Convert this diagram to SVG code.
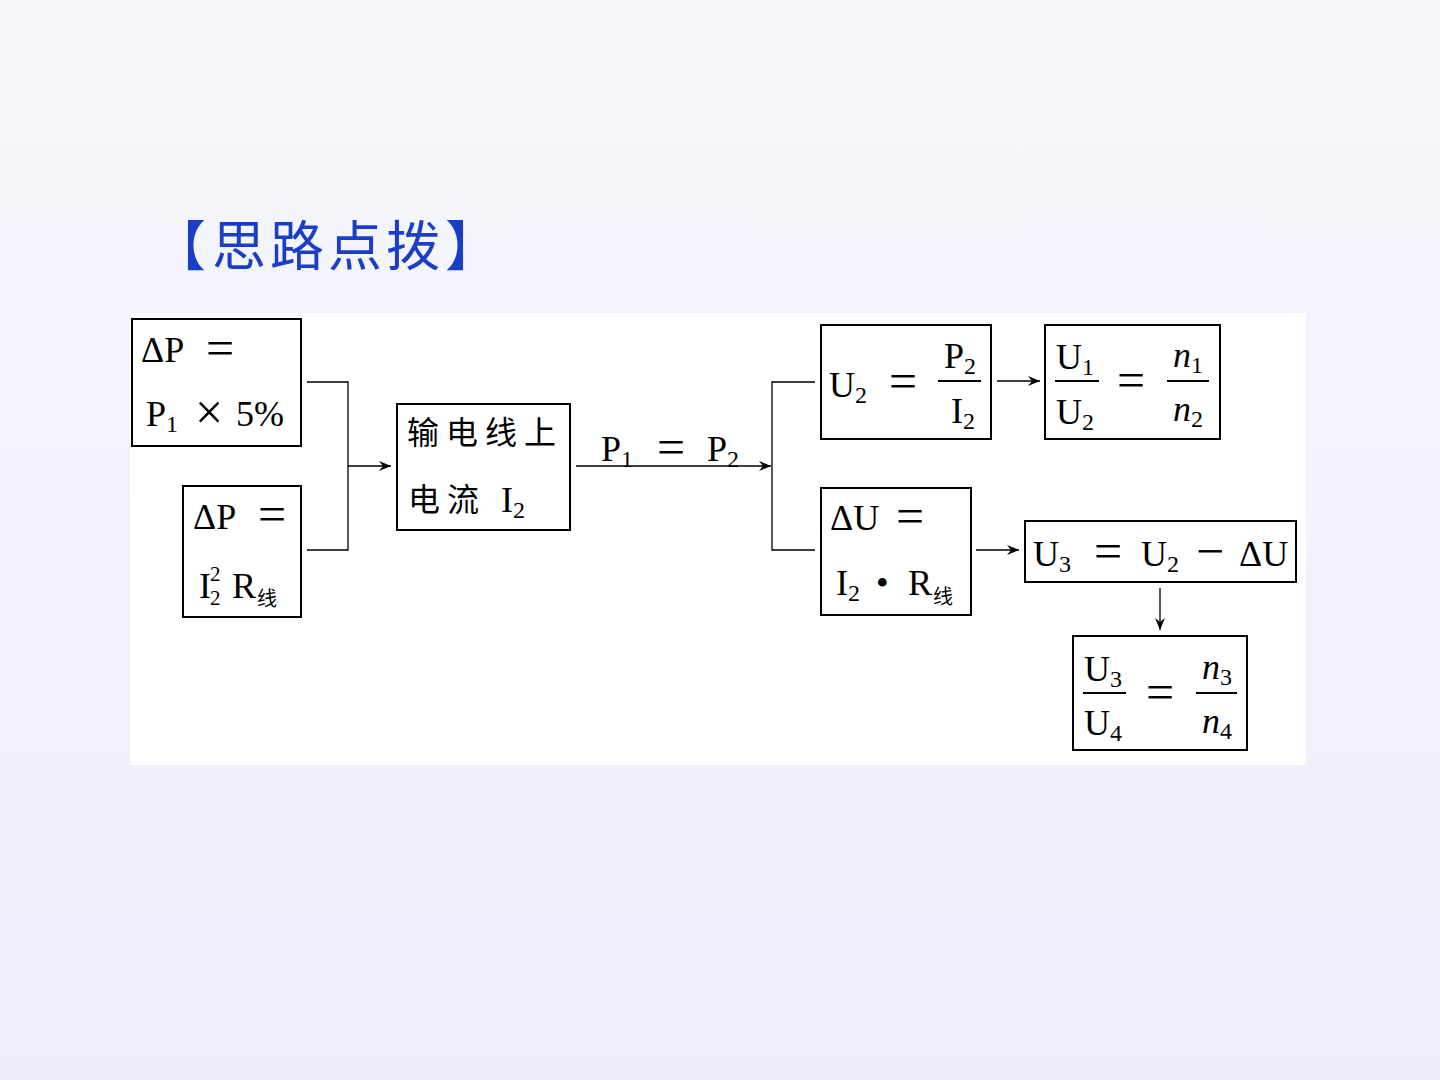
<svg xmlns="http://www.w3.org/2000/svg" width="1440" height="1080" viewBox="0 0 1440 1080">
<defs>
<linearGradient id="bg" x1="0" y1="0" x2="0" y2="1">
<stop offset="0" stop-color="#f6f6fc"/>
<stop offset="1" stop-color="#eeeefb"/>
</linearGradient>
<marker id="ah" viewBox="0 0 12 10" refX="12" refY="5" markerWidth="12" markerHeight="10" markerUnits="userSpaceOnUse" orient="auto">
<path d="M0,0 L12,5 L0,10 L4,5 Z" fill="#000"/>
</marker>
</defs>
<style>
.box{fill:none;stroke:#000;stroke-width:2}
.ln{fill:none;stroke:#000;stroke-width:1.3}
.m{font-family:"Liberation Serif","Noto Sans CJK SC",serif;font-size:36px;fill:#000}
.s{font-size:24px}
.ss{font-size:21px}
.eq{font-family:"Liberation Serif",serif;font-size:50px;fill:#000}
.c{font-family:"Noto Sans CJK SC",sans-serif;font-size:32px;fill:#000}
.cs{font-family:"Noto Sans CJK SC",sans-serif;font-size:20px}
.it{font-style:italic}
.fr{stroke:#000;stroke-width:2}
.t{font-family:"Noto Sans CJK SC",sans-serif;font-size:54px;fill:#1a3ec8}
</style>
<rect width="1440" height="1080" fill="url(#bg)"/>
<rect x="130" y="313" width="1176" height="452" fill="#fff"/>
<g id="title">
<text class="t" x="152" y="266">【</text>
<text class="t" x="212" y="266" letter-spacing="4">思路点拨</text>
<text class="t" x="445" y="266">】</text>
</g>

<g id="connectors">
<polyline class="ln" points="307,382 348,382 348,550 307,550"/>
<line class="ln" x1="348" y1="466" x2="391" y2="466" marker-end="url(#ah)"/>
<line class="ln" x1="576" y1="466" x2="771" y2="466" marker-end="url(#ah)"/>
<polyline class="ln" points="815,382 772,382 772,550 815,550"/>
<line class="ln" x1="997" y1="381" x2="1040" y2="381" marker-end="url(#ah)"/>
<line class="ln" x1="976" y1="550" x2="1019" y2="550" marker-end="url(#ah)"/>
<line class="ln" x1="1160" y1="588" x2="1160" y2="630" marker-end="url(#ah)"/>
</g>

<g id="n1">
<rect class="box" x="132" y="319" width="169" height="127"/>
<text class="m" x="141" y="362">ΔP</text>
<text class="eq" x="206" y="365">=</text>
<text class="m" x="146" y="426">P<tspan class="s" dy="6">1</tspan></text>
<text class="eq" x="195" y="429">×</text>
<text class="m" x="236" y="426">5%</text>
</g>

<g id="n2">
<rect class="box" x="183" y="486" width="118" height="131"/>
<text class="m" x="193" y="529">ΔP</text>
<text class="eq" x="258" y="531">=</text>
<text class="m" x="199" y="598">I</text>
<text class="m ss" x="210" y="581">2</text>
<text class="m ss" x="210" y="605">2</text>
<text class="m" x="232" y="598">R</text>
<text class="cs" x="257" y="606">线</text>
</g>

<g id="n3">
<rect class="box" x="397" y="404" width="173" height="126"/>
<text class="c" x="407" y="444" letter-spacing="7">输电线上</text>
<text class="c" x="408" y="511" letter-spacing="7">电流</text>
<text class="m" x="501" y="512">I<tspan class="s" dy="6">2</tspan></text>
</g>

<g id="lbl">
<text class="m" x="601" y="461">P<tspan class="s" dy="6">1</tspan></text>
<text class="eq" x="657" y="464">=</text>
<text class="m" x="707" y="461">P<tspan class="s" dy="6">2</tspan></text>
</g>

<g id="n4">
<rect class="box" x="821" y="325" width="170" height="114"/>
<text class="m" x="829" y="397">U<tspan class="s" dy="6">2</tspan></text>
<text class="eq" x="889" y="398">=</text>
<text class="m" x="944" y="368">P<tspan class="s" dy="6">2</tspan></text>
<line class="fr" x1="938" y1="381" x2="981" y2="381"/>
<text class="m" x="951" y="423">I<tspan class="s" dy="6">2</tspan></text>
</g>

<g id="n5">
<rect class="box" x="1045" y="325" width="175" height="114"/>
<text class="m" x="1056" y="369">U<tspan class="s" dy="6">1</tspan></text>
<line class="fr" x1="1055" y1="381" x2="1099" y2="381"/>
<text class="m" x="1056" y="424">U<tspan class="s" dy="6">2</tspan></text>
<text class="eq" x="1117" y="397">=</text>
<text class="m it" x="1173" y="367">n<tspan class="s" font-style="normal" dy="6">1</tspan></text>
<line class="fr" x1="1167" y1="381" x2="1209" y2="381"/>
<text class="m it" x="1173" y="421">n<tspan class="s" font-style="normal" dy="6">2</tspan></text>
</g>

<g id="n6">
<rect class="box" x="821" y="488" width="150" height="127"/>
<text class="m" x="830" y="530">ΔU</text>
<text class="eq" x="896" y="533">=</text>
<text class="m" x="836" y="595">I<tspan class="s" dy="6">2</tspan></text>
<text class="m" x="876" y="595">•</text>
<text class="m" x="908" y="595">R</text>
<text class="cs" x="933" y="604">线</text>
</g>

<g id="n7">
<rect class="box" x="1025" y="521" width="271" height="61"/>
<text class="m" x="1033" y="566">U<tspan class="s" dy="6">3</tspan></text>
<text class="eq" x="1094" y="568">=</text>
<text class="m" x="1141" y="566">U<tspan class="s" dy="6">2</tspan></text>
<text class="eq" x="1196" y="568">−</text>
<text class="m" x="1239" y="566">ΔU</text>
</g>

<g id="n8">
<rect class="box" x="1073" y="636" width="174" height="114"/>
<text class="m" x="1084" y="681">U<tspan class="s" dy="6">3</tspan></text>
<line class="fr" x1="1083" y1="693" x2="1126" y2="693"/>
<text class="m" x="1084" y="735">U<tspan class="s" dy="6">4</tspan></text>
<text class="eq" x="1146" y="709">=</text>
<text class="m it" x="1202" y="679">n<tspan class="s" font-style="normal" dy="6">3</tspan></text>
<line class="fr" x1="1196" y1="693" x2="1237" y2="693"/>
<text class="m it" x="1202" y="733">n<tspan class="s" font-style="normal" dy="6">4</tspan></text>
</g>
</svg>
